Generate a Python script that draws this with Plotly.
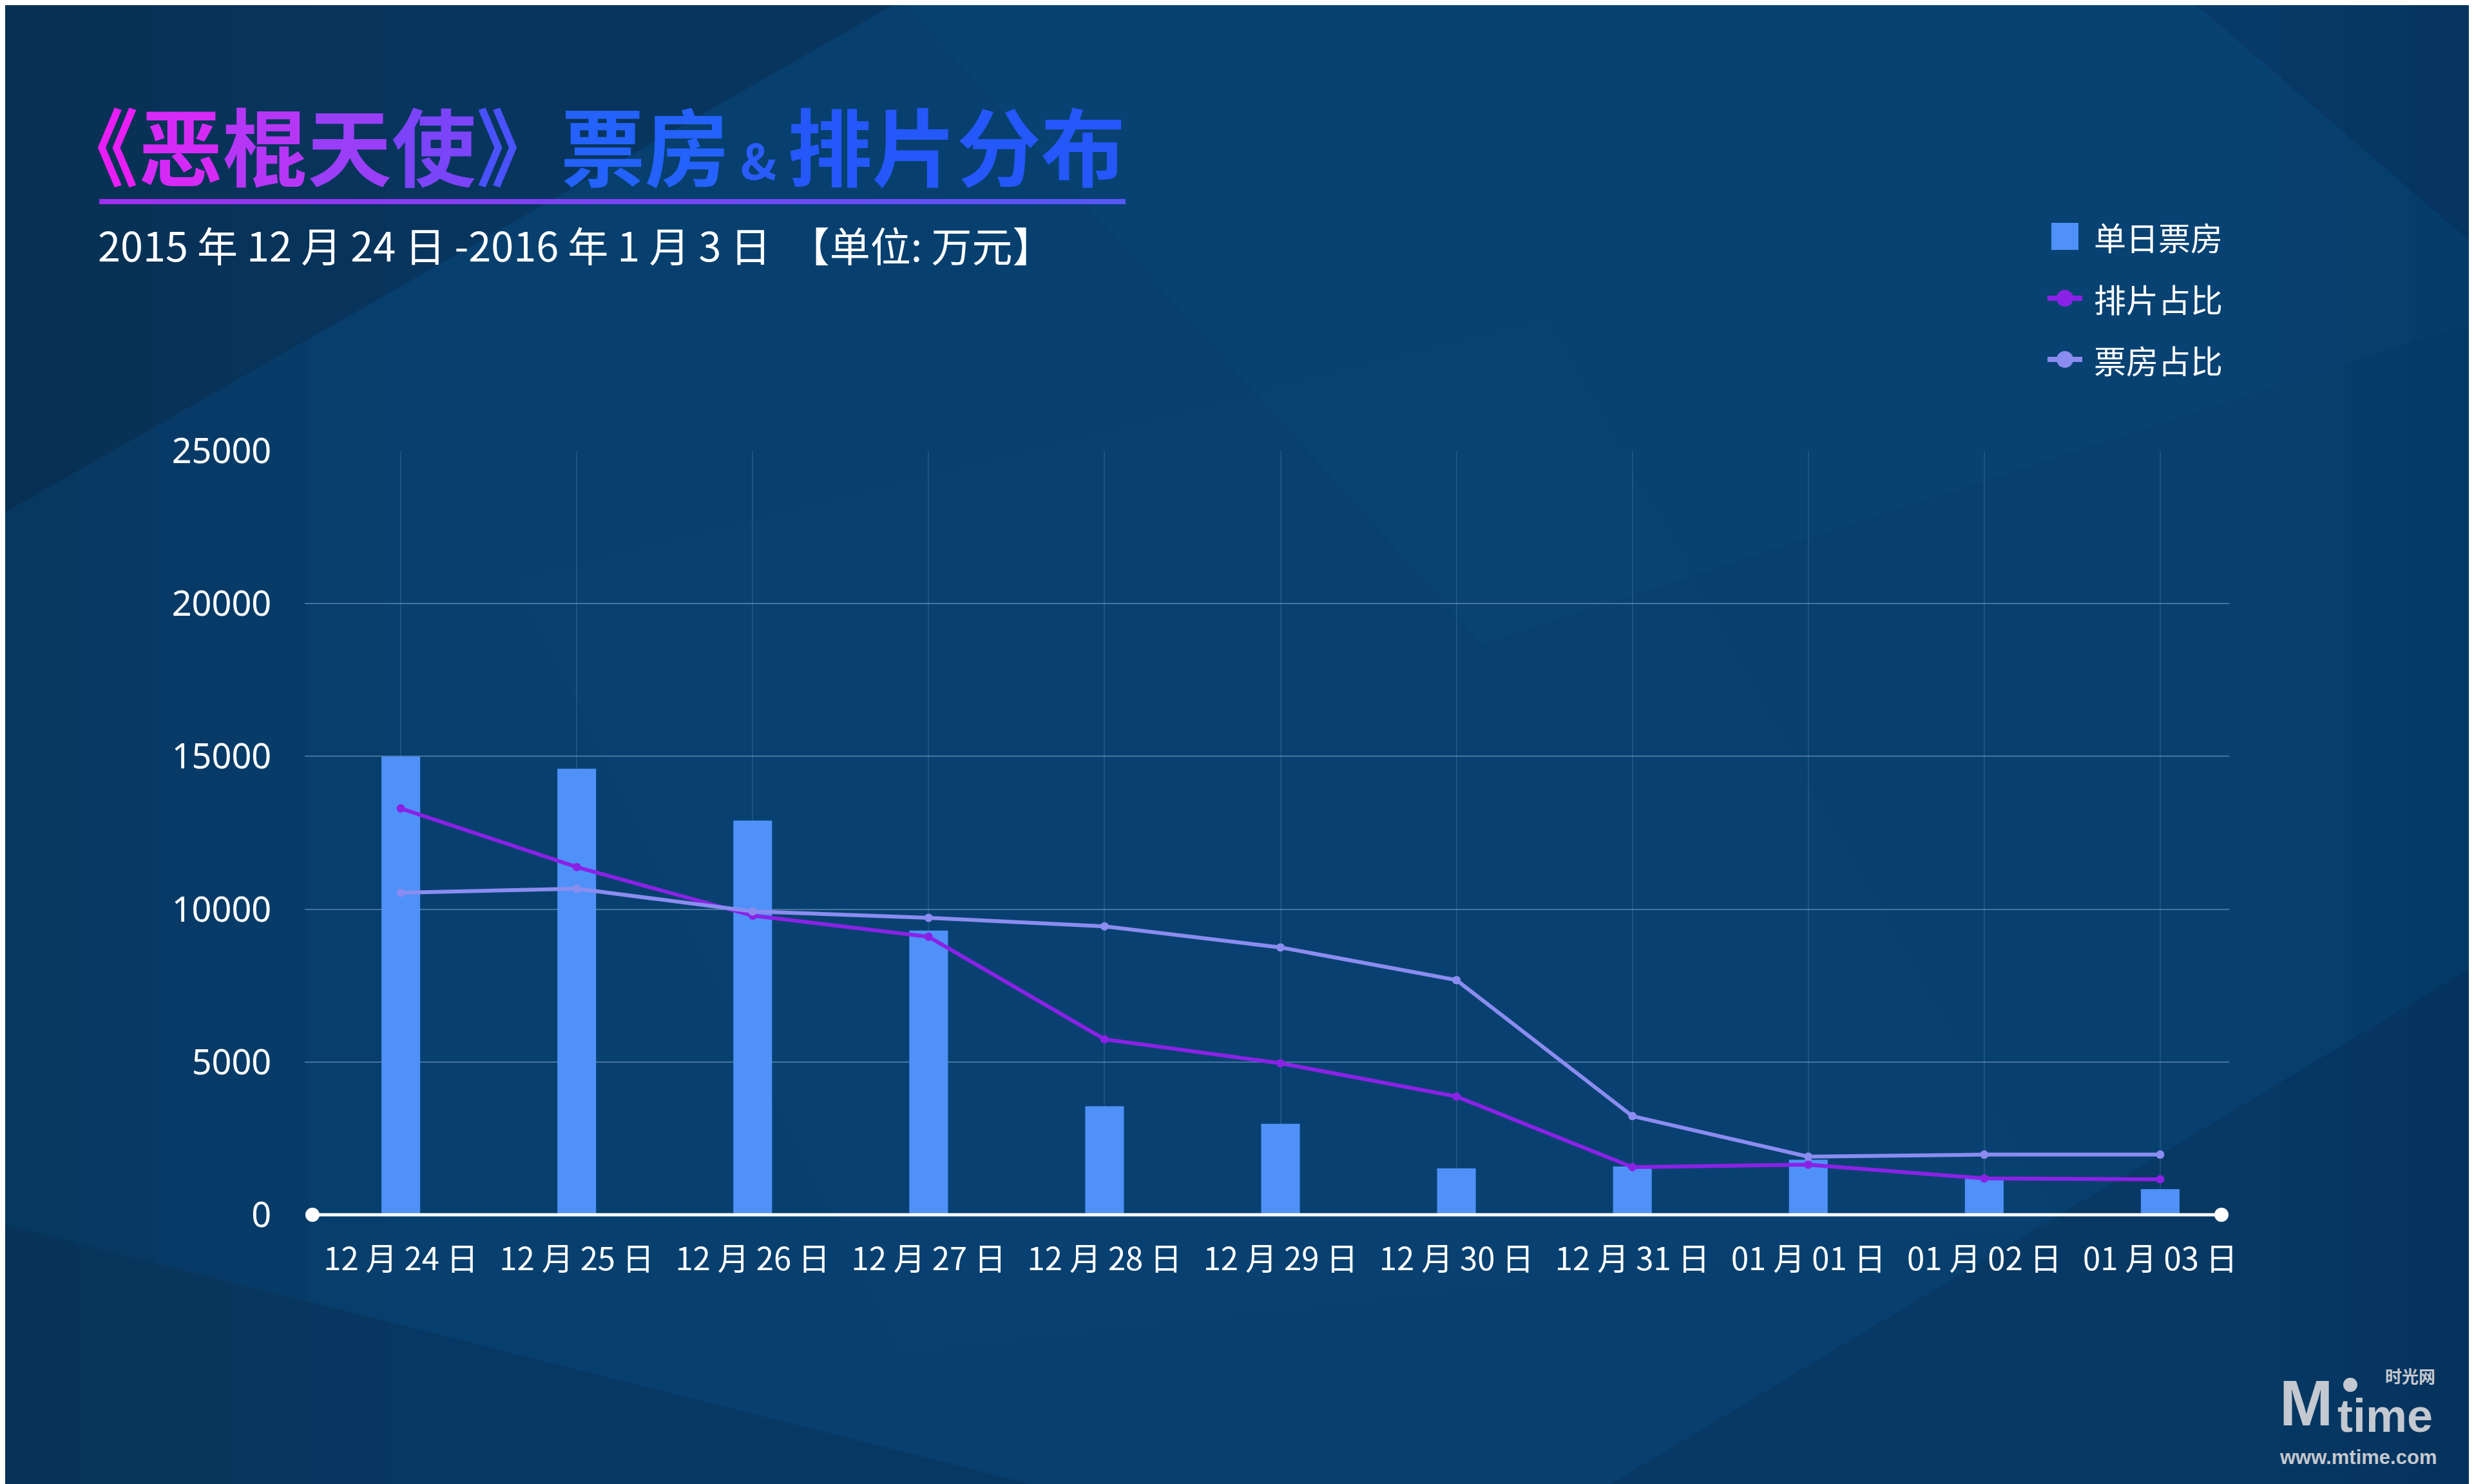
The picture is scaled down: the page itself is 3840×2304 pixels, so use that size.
import plotly.graph_objects as go

# ---------------- data ----------------
categories = ["12 月 24 日", "12 月 25 日", "12 月 26 日", "12 月 27 日", "12 月 28 日",
              "12 月 29 日", "12 月 30 日", "12 月 31 日", "01 月 01 日", "01 月 02 日", "01 月 03 日"]
daily_box = [15000, 14600, 12900, 9300, 3550, 2980, 1520, 1580, 1800, 1240, 840]
screen_share = [13300, 11380, 9790, 9100, 5740, 4960, 3870, 1560, 1640, 1190, 1160]
box_share = [10540, 10670, 9930, 9720, 9440, 8750, 7680, 3230, 1900, 1970, 1970]
y_ticks = [0, 5000, 10000, 15000, 20000, 25000]
legend_names = ["单日票房", "排片占比", "票房占比"]

# ---------------- layout geometry (reference pixels in 3840x2304) ----------------
WIDTH, HEIGHT = 3840, 2304
OFF = 8  # page body margin offset
L, R, T, B = 473 - OFF, 3460 - OFF, 700 - OFF, 1886 - OFF
PW, PH = R - L, B - T


def px(x):
    return (x - OFF - L) / PW


def py(y):
    return (B - (y - OFF)) / PH


BAR_COLOR = "#4f91f8"
PURPLE = "#8a22e6"
LAVENDER = "#8b8cf0"
CJK = "Noto Sans CJK SC"
LOGO = "#c4c8d0"

fig = go.Figure()
xs = list(range(len(categories)))

fig.add_trace(go.Bar(
    x=xs, y=daily_box, name=legend_names[0],
    marker=dict(color=BAR_COLOR, line=dict(width=0)), width=0.22,
))
fig.add_trace(go.Scatter(
    x=xs, y=screen_share, name=legend_names[1], mode="lines+markers",
    line=dict(color=PURPLE, width=6), marker=dict(size=13, color=PURPLE),
))
fig.add_trace(go.Scatter(
    x=xs, y=box_share, name=legend_names[2], mode="lines+markers",
    line=dict(color=LAVENDER, width=6), marker=dict(size=13, color=LAVENDER),
))

shapes = []


def ppath(points):
    s = ""
    for i, (a, b) in enumerate(points):
        s += ("M" if i == 0 else " L") + f" {px(a):.5f} {py(b):.5f}"
    return s + " Z"


# subtle background facets / vignette
bg_polys = [
    ([(0, 0), (1400, 0), (0, 800)], "rgba(12,24,52,0.28)"),
    ([(1400, 0), (3840, 0), (3840, 500), (2300, 1000)], "rgba(40,110,170,0.06)"),
    ([(3400, 0), (3840, 0), (3840, 380)], "rgba(10,30,60,0.20)"),
    ([(0, 1900), (1600, 2304), (0, 2304)], "rgba(8,28,60,0.22)"),
    ([(2500, 2304), (3840, 1500), (3840, 2304)], "rgba(8,30,62,0.20)"),
    ([(800, 900), (2400, 500), (3200, 1900), (1400, 2100)], "rgba(30,100,160,0.05)"),
]
for w in (120, 240, 360, 480, 600):
    bg_polys.append(([(0, 0), (w, 0), (w, 2304), (0, 2304)], "rgba(12,30,62,0.05)"))
for w in (100, 200, 300):
    bg_polys.append(([(3840 - w, 0), (3840, 0), (3840, 2304), (3840 - w, 2304)], "rgba(12,30,62,0.04)"))
for pts, col in bg_polys:
    shapes.append(dict(type="path", path=ppath(pts), xref="paper", yref="paper",
                       fillcolor=col, line=dict(width=0), layer="below"))

# title underline gradient
ux0, ux1, uy = 154, 1746, 313
nseg = 40
c0 = (160, 48, 240)
c1 = (88, 88, 248)
for k in range(nseg):
    f = k / (nseg - 1)
    col = "rgb(%d,%d,%d)" % tuple(int(c0[j] + (c1[j] - c0[j]) * f) for j in range(3))
    xa = ux0 + (ux1 - ux0) * k / nseg
    xb = ux0 + (ux1 - ux0) * (k + 1) / nseg + 1
    shapes.append(dict(type="line", xref="paper", yref="paper",
                       x0=px(xa), x1=px(xb), y0=py(uy), y1=py(uy),
                       line=dict(color=col, width=8)))

# white baseline with end dots
ax0, ax1 = 485, 3448
shapes.append(dict(type="line", xref="paper", yref="paper", x0=px(ax0), x1=px(ax1),
                   y0=py(1886), y1=py(1886), line=dict(color="white", width=5), layer="above"))
for xe in (ax0, ax1):
    shapes.append(dict(type="circle", xref="paper", yref="paper", xsizemode="pixel",
                       ysizemode="pixel", xanchor=px(xe), yanchor=py(1886),
                       x0=-11, x1=11, y0=-11, y1=11,
                       fillcolor="white", line=dict(width=0), layer="above"))

# manual legend
leg_sym_x = 3205
leg_text_x = 3248
leg_y = [367, 463, 558]
shapes.append(dict(type="rect", xref="paper", yref="paper",
                   x0=px(leg_sym_x - 21), x1=px(leg_sym_x + 21),
                   y0=py(leg_y[0] + 21), y1=py(leg_y[0] - 21),
                   fillcolor=BAR_COLOR, line=dict(width=0)))
for yy, col in ((leg_y[1], PURPLE), (leg_y[2], LAVENDER)):
    shapes.append(dict(type="line", xref="paper", yref="paper",
                       x0=px(leg_sym_x - 27), x1=px(leg_sym_x + 27), y0=py(yy), y1=py(yy),
                       line=dict(color=col, width=8)))
    shapes.append(dict(type="circle", xref="paper", yref="paper", xsizemode="pixel",
                       ysizemode="pixel", xanchor=px(leg_sym_x), yanchor=py(yy),
                       x0=-13, x1=13, y0=-13, y1=13, fillcolor=col, line=dict(width=0)))

# logo dot
shapes.append(dict(type="circle", xref="paper", yref="paper", xsizemode="pixel",
                   ysizemode="pixel", xanchor=px(3648), yanchor=py(2150),
                   x0=-11, x1=11, y0=-11, y1=11, fillcolor=LOGO, line=dict(width=0)))

# title with gradient colours per character
title_chars = [("《", "#e81ef5"), ("恶", "#d52af5"), ("棍", "#b636f6"), ("天", "#9a3ef8"),
               ("使", "#7c44f9"), ("》", "#4a52fc")]
title_html = "".join(f"<span style='color:{c}'>{ch}</span>" for ch, c in title_chars)
title_html += ("<span style='color:#2462fb'>票房</span>"
               "<span style='color:#2a5cfa;font-size:76px'> &amp; </span>"
               "<span style='color:#2458fb'>排片分布</span>")

annotations = [
    dict(text="<b>" + title_html + "</b>", xref="paper", yref="paper", x=px(82), y=py(222),
         xanchor="left", yanchor="middle", showarrow=False,
         font=dict(family=CJK, size=131, color="#2f5ff8")),
    dict(text="2015 年 12 月 24 日 -2016 年 1 月 3 日  【单位: 万元】", xref="paper", yref="paper",
         x=px(150), y=py(378), xanchor="left", yanchor="middle", showarrow=False,
         font=dict(family=CJK, size=63, color="white")),
    # watermark logo
    dict(text="<b>M</b>", xref="paper", yref="paper", x=px(3536), y=py(2178),
         xanchor="left", yanchor="middle", showarrow=False,
         font=dict(family="Liberation Sans", size=100, color=LOGO)),
    dict(text="<b>time</b>", xref="paper", yref="paper", x=px(3626), y=py(2240),
         xanchor="left", yanchor="bottom", showarrow=False,
         font=dict(family="Liberation Sans", size=72, color=LOGO)),
    dict(text="<b>时光网</b>", xref="paper", yref="paper", x=px(3782), y=py(2156),
         xanchor="right", yanchor="bottom", showarrow=False,
         font=dict(family=CJK, size=26, color=LOGO)),
    dict(text="<b>www.mtime.com</b>", xref="paper", yref="paper", x=px(3536), y=py(2243),
         xanchor="left", yanchor="top", showarrow=False,
         font=dict(family="Liberation Sans", size=31, color=LOGO)),
]
for name, yy in zip(legend_names, leg_y):
    annotations.append(dict(text=name, xref="paper", yref="paper", x=px(leg_text_x), y=py(yy),
                            xanchor="left", yanchor="middle", showarrow=False,
                            font=dict(family=CJK, size=50, color="white")))

fig.update_layout(
    width=WIDTH, height=HEIGHT,
    margin=dict(l=L, r=WIDTH - R, t=T, b=HEIGHT - B, autoexpand=False),
    paper_bgcolor="#07406f", plot_bgcolor="rgba(0,0,0,0)",
    font=dict(family=CJK, color="white"),
    showlegend=False,
    shapes=shapes,
    annotations=annotations,
    xaxis=dict(
        range=[-0.546, 10.392], tickmode="array", tickvals=xs,
        ticktext=categories, showgrid=True, gridcolor="rgba(180,205,235,0.13)", gridwidth=2,
        zeroline=False, showline=False, ticks="outside", ticklen=26, tickcolor="rgba(0,0,0,0)",
        tickfont=dict(family=CJK, size=49, color="white"),
    ),
    yaxis=dict(
        range=[0, 25000], tickmode="array", tickvals=y_ticks, ticktext=[str(v) for v in y_ticks],
        showgrid=True, gridcolor="rgba(170,200,230,0.38)", gridwidth=2, zeroline=False,
        ticks="outside", ticklen=40, tickcolor="rgba(0,0,0,0)",
        tickfont=dict(family="Noto Sans", size=54, color="white"),
    ),
)

fig.write_html("out.html")
